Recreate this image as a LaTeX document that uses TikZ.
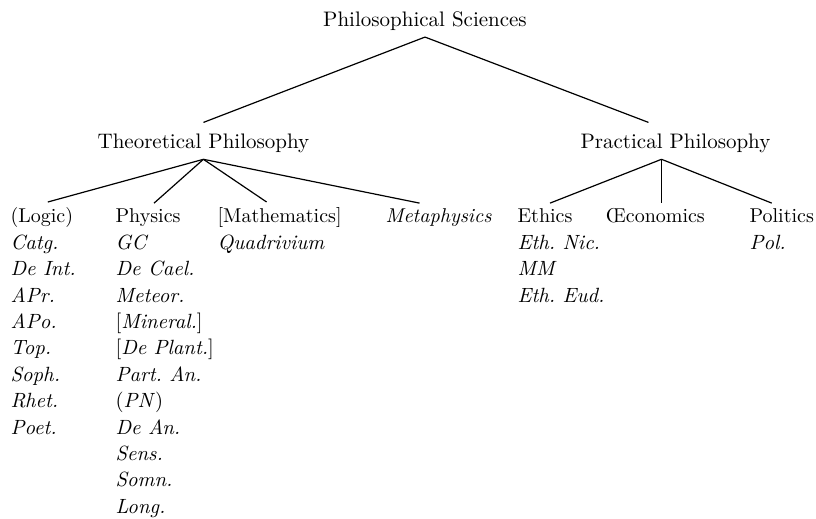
\documentclass[tikz,border=0pt]{standalone}
\usepackage{tikz}
\usetikzlibrary{positioning}
\frenchspacing
\tikzset{
  lvl/.style={inner sep=0pt, outer ysep=3pt, font=\fontsize{10.5}{12}\selectfont},
  head/.style={inner sep=0pt, outer ysep=3pt, anchor=base west, font=\fontsize{10}{12}\selectfont},
  work/.style={inner sep=0pt, anchor=base west, font=\fontsize{10.3}{12}\selectfont\itshape},
  every path/.style={line width=0.6pt},
}
\begin{document}
\begin{tikzpicture}[x=0.5pt, y=-0.5pt]
    \useasboundingbox (0,0) rectangle (816,519);

    % Nút gốc "Philosophical Sciences"
    \node[lvl, anchor=base] (ps) at (425,27) {Philosophical Sciences};

    % Hai nhánh chính
    \node[lvl, anchor=base west] (tp) at (97,149) {Theoretical Philosophy};
    \node[lvl, anchor=base west] (pp) at (580,149) {Practical Philosophy};
    \draw (ps.south) -- ([yshift=3pt]tp.north);
    \draw (ps.south) -- ([xshift=-13.5pt, yshift=3pt]pp.north);

    % Theoretical: (Logic)
    \node[head] (logic) at (10,223) {(Logic)};
    \foreach \w [count=\i] in {Catg., De Int., APr., APo., Top., Soph., Rhet., Poet.}
        \node[work] (logic\i) at (10,223+26.4*\i) {\w};
    \draw (tp.south) -- ([xshift=3pt]logic.north);

    % Theoretical: Physics
    \node[head] (phys) at (115,223) {Physics};
    \foreach \w [count=\i] in {GC, De Cael., Meteor., {\textup{[}Mineral.\textup{]}},
        {\textup{[}De Plant.\textup{]}}, Part. An., {\textup{(}PN\textup{)}},
        De An., Sens., Somn., Long.}
        \node[work] (phys\i) at (115,223+26.4*\i) {\w};
    \draw (tp.south) -- ([xshift=3pt]phys.north);

    % Theoretical: [Mathematics] va Metaphysics
    \node[head] (math) at (217,223) {[Mathematics]};
    \node[work] (math1) at (217,249.4) {Quadrivium};
    \draw (tp.south) -- ([xshift=-6.5pt]math.north);
    \node[head] (meta) at (385,223) {\itshape Metaphysics};
    \draw (tp.south) -- ([xshift=-9.5pt]meta.north);

    % Practical: Ethics, OEconomics, Politics
    \node[head] (eth) at (517,223) {Ethics};
    \foreach \w [count=\i] in {Eth. Nic., MM, Eth. Eud.}
        \node[work] (eth\i) at (517,223+26.4*\i) {\w};
    \draw ([xshift=-7pt]pp.south) -- ([xshift=2.5pt]eth.north);
    \node[head] (oec) at (605,223) {\OE conomics};
    \draw ([xshift=-7pt]pp.south) -- ([xshift=-7pt]pp.south |- oec.north);
    \node[head] (pol) at (749,223) {Politics};
    \node[work] (pol1) at (749,249.4) {Pol.};
    \draw ([xshift=-7pt]pp.south) -- ([xshift=-5pt]pol.north);
\end{tikzpicture}
\end{document}
